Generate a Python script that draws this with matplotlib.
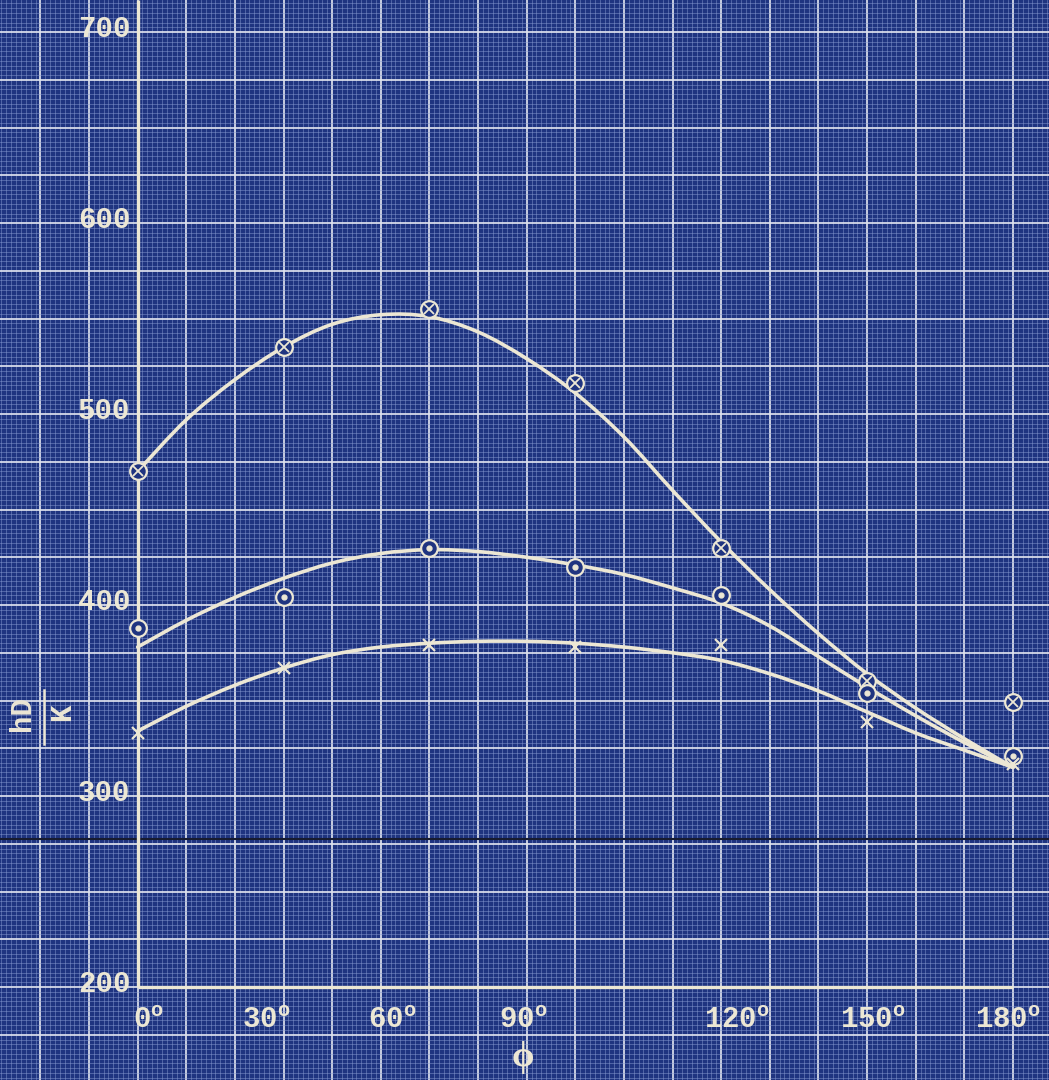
import numpy as np
import matplotlib.pyplot as plt
from matplotlib.path import Path
from matplotlib.patches import PathPatch
from matplotlib.ticker import MultipleLocator

plt.rcParams['mathtext.fontset'] = 'custom'
plt.rcParams['mathtext.rm'] = 'Liberation Mono:bold'
plt.rcParams['mathtext.it'] = 'Liberation Mono:bold'

# measured points, phi in degrees
angles = [0, 30, 60, 90, 120, 150, 180]
nu_cross = [470, 535, 555, 516, 430, 360, 349]   # circle with cross
nu_dot = [388, 404, 430, 420, 405, 354, 321]     # circle with dot
nu_x = [333, 367, 379, 378, 379, 339, 317]       # plain x

# faired curves read every 10 degrees
curve_angles = [0, 10, 20, 30, 40, 50, 60, 70, 80, 90,
                100, 110, 120, 130, 140, 150, 160, 170, 180]
fair_cross = [470, 497, 518, 535, 547, 552, 551, 543, 529, 511,
              488, 460, 433, 408, 385, 364, 346, 330, 315]
fair_dot = [378, 392, 404, 414, 422, 427, 429, 428, 425, 421,
            416, 409, 401, 389, 373, 357, 342, 328, 315]
fair_x = [334, 347, 358, 367, 374, 378, 380, 381, 381, 380,
          378, 375, 371, 364, 355, 344, 333, 324, 315]

y_ticks = [200, 300, 400, 500, 600, 700]
x_ticks = [0, 30, 60, 90, 120, 150, 180]
x_tick_text = ['0', '30', '60', '90', '120', '150', '180']

paper = '#1f3480'
fine = '#8a9dd4'
heavy = '#dfe3ee'
ink = '#ece7d4'


def faired(xs, ys):
    # catmull-rom through the points, written as bezier segments
    pts = np.column_stack([xs, ys]).astype(float)
    p = np.vstack([pts[0], pts, pts[-1]])
    verts = [pts[0]]
    codes = [Path.MOVETO]
    for i in range(1, len(p) - 2):
        p0, p1, p2, p3 = p[i - 1], p[i], p[i + 1], p[i + 2]
        verts += [p1 + (p2 - p0) / 6, p2 - (p3 - p1) / 6, p2]
        codes += [Path.CURVE4] * 3
    return Path(verts, codes)


fig = plt.figure(figsize=(10.49, 10.8), dpi=100)
fig.patch.set_facecolor(paper)
ax = fig.add_axes([0, 0, 1, 1])
ax.set_facecolor(paper)
ax.set_xlim(-28.3, 187.4)
ax.set_ylim(151.3, 716.8)
for s in ax.spines.values():
    s.set_visible(False)

# graph paper
ax.xaxis.set_major_locator(MultipleLocator(10))
ax.xaxis.set_minor_locator(MultipleLocator(1))
ax.yaxis.set_major_locator(MultipleLocator(25))
ax.yaxis.set_minor_locator(MultipleLocator(2.5))
ax.grid(which='minor', color=fine, lw=0.6, alpha=0.55)
ax.grid(which='major', color=heavy, lw=1.3, alpha=0.95)
ax.set_axisbelow(True)
ax.tick_params(which='both', length=0, labelbottom=False, labelleft=False)

# crease across the sheet
ax.axhline(277.5, color='#171b30', lw=1.5, zorder=1.5)

# axes of the graph
ax.plot([0, 0], [200, 716.8], color=ink, lw=2.4, zorder=3, solid_capstyle='butt')
ax.plot([0, 180], [200, 200], color=ink, lw=2.4, zorder=3, solid_capstyle='butt')

for ys in [fair_cross, fair_dot, fair_x]:
    ax.add_patch(PathPatch(faired(curve_angles, ys), fill=False, edgecolor=ink, lw=2.6,
                           capstyle='round', zorder=4))

ax.plot(angles, nu_cross, 'o', ms=12, mfc=paper, mec=ink, mew=1.6, zorder=5)
ax.plot(angles, nu_cross, 'x', ms=7, mec=ink, mew=1.3, zorder=6)
ax.plot(angles, nu_dot, 'o', ms=12, mfc=paper, mec=ink, mew=1.6, zorder=5)
ax.plot(angles, nu_dot, 'o', ms=3.5, mfc=ink, mec=ink, zorder=6)
ax.plot(angles, nu_x, 'x', ms=9, mec=ink, mew=1.6, zorder=5)

txt = dict(color=ink, fontfamily='Liberation Mono', fontweight='bold', fontsize=21)
for v in y_ticks:
    ax.text(-1.5, v + 1.5, str(v), ha='right', va='center', zorder=7, **txt)

# hand-lettered labels sit a little off their rulings
x_label_pos = [2.2, 26.4, 52.3, 79.3, 123.2, 151.2, 179.0]
for pos, t in zip(x_label_pos, x_tick_text):
    ax.text(pos, 182.5, t + r'$^{\mathrm{o}}$', ha='center', va='center', zorder=7, **txt)

ax.text(79.3, 163, 'ϕ', ha='center', va='center', color=ink, fontsize=26,
        family=['Liberation Serif', 'DejaVu Serif'], fontweight='bold', zorder=7)

# y label hD/K, lettered as a fraction on its side
ax.text(-23.7, 343, 'hD', rotation=90, ha='center', va='center', zorder=7,
        color=ink, fontfamily='Liberation Mono', fontweight='bold', fontsize=21)
ax.plot([-19.2, -19.2], [327, 355.5], color=ink, lw=1.8, zorder=7)
ax.text(-15.6, 344, 'K', rotation=90, ha='center', va='center', zorder=7,
        color=ink, fontfamily='Liberation Mono', fontweight='bold', fontsize=21)

fig.savefig('out.png', dpi=100, facecolor=paper)
